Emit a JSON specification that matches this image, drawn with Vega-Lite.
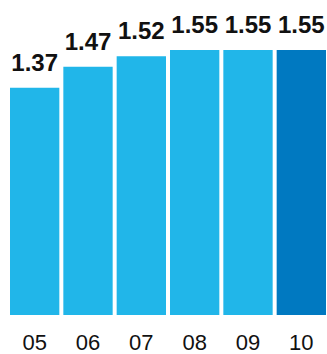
{
  "$schema": "https://vega.github.io/schema/vega-lite/v6.json",
  "width": 316,
  "height": 265,
  "autosize": "none",
  "padding": {"left": 10, "top": 50, "right": 1, "bottom": 39},
  "background": "white",
  "config": {"view": {"stroke": null}},
  "data": {"values": [
    {"year": "05", "value": 1.37},
    {"year": "06", "value": 1.47},
    {"year": "07", "value": 1.52},
    {"year": "08", "value": 1.55},
    {"year": "09", "value": 1.55},
    {"year": "10", "value": 1.55}
  ]},
  "encoding": {
    "x": {
      "field": "year", "type": "ordinal", "sort": null,
      "scale": {"paddingInner": 0.075, "paddingOuter": 0},
      "axis": {
        "title": null, "ticks": false, "tickSize": 0, "domain": false,
        "labelAngle": 0, "labelFont": "Liberation Sans", "labelFontSize": 22,
        "labelColor": "#111111", "labelBaseline": "alphabetic", "labelPadding": 34
      }
    },
    "y": {
      "field": "value", "type": "quantitative",
      "scale": {"domain": [0.287, 1.55], "zero": false, "nice": false, "clamp": true},
      "axis": null
    }
  },
  "layer": [
    {
      "mark": {"type": "bar"},
      "encoding": {
        "color": {
          "condition": {"test": "datum.year === '10'", "value": "#0079C1"},
          "value": "#21B6E9"
        }
      }
    },
    {
      "mark": {"type": "text", "baseline": "alphabetic", "dy": -17, "font": "Liberation Sans", "fontWeight": "bold", "fontSize": 24, "color": "#111111"},
      "encoding": {
        "text": {"field": "value", "type": "quantitative", "format": ".2f"}
      }
    }
  ]
}
